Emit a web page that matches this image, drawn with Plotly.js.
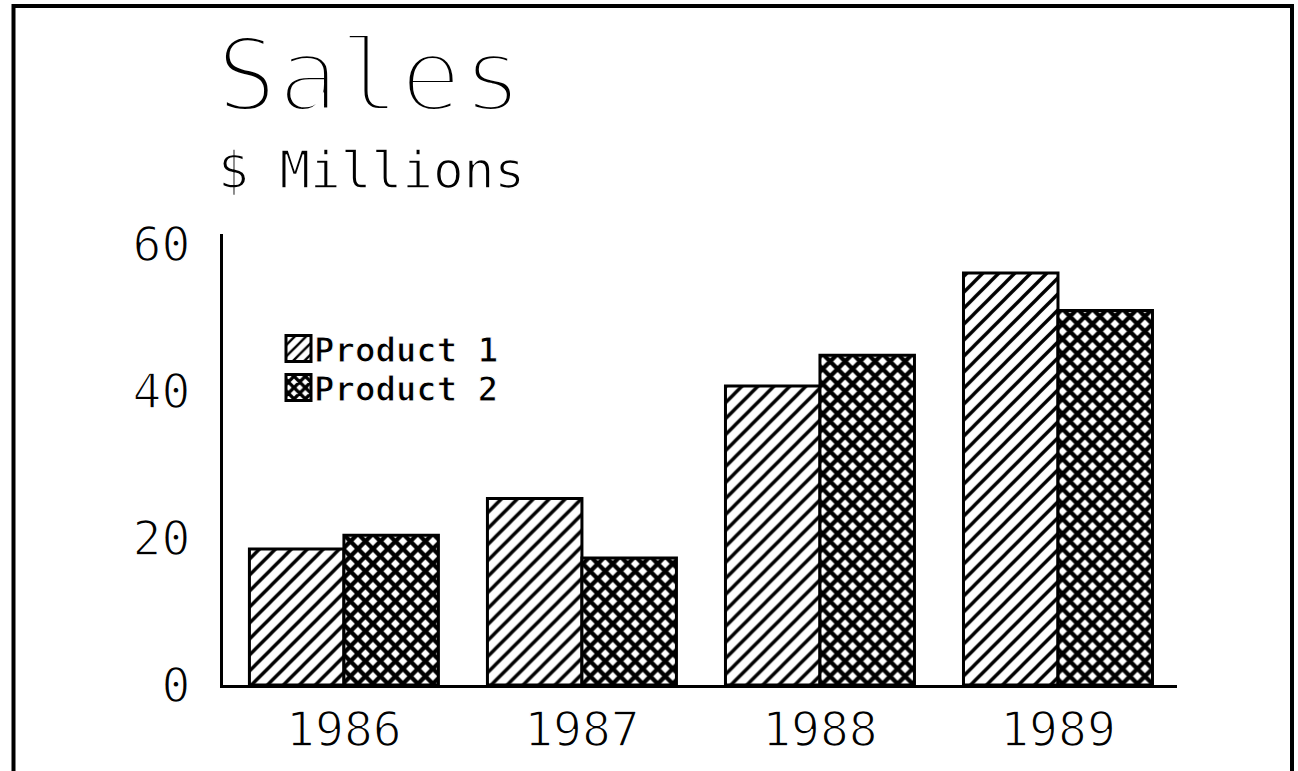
<!DOCTYPE html>
<html><head><meta charset="utf-8">
<script src="https://cdn.plot.ly/plotly-3.0.1.min.js"></script>
<style>
html,body{margin:0;padding:0;background:#fff;}
#chart{width:1298px;height:771px;}
.gtitle{stroke:#fff;stroke-width:6px;}
.annotation-text{stroke:#fff;stroke-width:1.5px;}
.xtick text,.ytick text{stroke:#fff;stroke-width:1.5px;}
</style></head><body><div id="chart"></div>
<script>
const years = ['1986', '1987', '1988', '1989'];
const product1 = [18.5, 25.4, 40.7, 56.1];
const product2 = [20.4, 17.3, 44.9, 51.0];
const seriesNames = ['Product 1', 'Product 2'];
const yTickVals = [0, 20, 40, 60];
const yTickText = ['0', '20', '40', '60'];
const titleText = 'Sales';
const subtitleText = '$ Millions';

const FONT = '"DejaVu Sans Mono", "Liberation Mono", monospace';
const W = 1298, H = 771;
const M = {l: 223, r: 121, t: 234, b: 86};
const pw = W - M.l - M.r, ph = H - M.t - M.b;
function px2x(px) { return (px - M.l) / pw; }
function py2y(py) { return (H - M.b - py) / ph; }

const traces = [
  {
    type: 'bar', name: seriesNames[0], x: years, y: product1, legend: 'legend',
    marker: {
      color: '#fff',
      line: {color: '#000', width: 3},
      pattern: {shape: '/', fgcolor: '#000', bgcolor: '#fff', size: 11.3, solidity: 0.3, fillmode: 'replace'}
    },
    hoverinfo: 'skip'
  },
  {
    type: 'bar', name: seriesNames[1], x: years, y: product2, legend: 'legend2',
    marker: {
      color: '#fff',
      line: {color: '#000', width: 3},
      pattern: {shape: 'x', fgcolor: '#000', bgcolor: '#fff', size: 10.6, solidity: 0.65, fillmode: 'replace'}
    },
    hoverinfo: 'skip'
  }
];

const legendCommon = {
  x: px2x(274), xanchor: 'left', yanchor: 'middle',
  font: {family: FONT, size: 34, color: '#000', weight: 'bold'},
  bgcolor: 'rgba(0,0,0,0)', itemwidth: 30
};

const layout = {
  width: W, height: H, autosize: false,
  paper_bgcolor: '#fff', plot_bgcolor: '#fff',
  margin: M,
  barmode: 'group', bargap: 0.206, bargroupgap: 0,
  font: {family: FONT, color: '#000'},
  title: {
    text: titleText,
    font: {family: FONT, size: 102, color: '#000'},
    xref: 'container', x: 216 / W, xanchor: 'left',
    yref: 'container', y: 1 - 40 / H, yanchor: 'top'
  },
  annotations: [{
    text: subtitleText, showarrow: false,
    xref: 'paper', yref: 'paper',
    x: px2x(216), xanchor: 'left',
    y: py2y(170), yanchor: 'middle',
    font: {family: FONT, size: 51, color: '#000'}
  }],
  xaxis: {
    type: 'category', range: [-0.508, 3.5],
    showline: true, linecolor: '#000', linewidth: 3,
    ticks: '', showgrid: false, zeroline: false,
    tickfont: {family: FONT, size: 48, color: '#000'},
    fixedrange: true
  },
  yaxis: {
    range: [0, 61.4],
    tickvals: yTickVals, ticktext: yTickText,
    showline: true, linecolor: '#000', linewidth: 3,
    ticks: '', showgrid: false, zeroline: false,
    tickfont: {family: FONT, size: 48, color: '#000'},
    ticklabelstandoff: 20,
    fixedrange: true
  },
  legend: Object.assign({}, legendCommon, {y: py2y(349)}),
  legend2: Object.assign({}, legendCommon, {y: py2y(388)}),
  shapes: [{
    type: 'rect', xref: 'paper', yref: 'paper',
    x0: px2x(13.5), x1: px2x(1292), y0: py2y(800), y1: py2y(6),
    line: {color: '#000', width: 4}, fillcolor: 'rgba(0,0,0,0)', layer: 'above'
  }],
  showlegend: true
};

function finish() {
  document.querySelectorAll('.legendpoints path').forEach(function (p) {
    p.setAttribute('d', 'M17,13H-8V-13H17Z');
  });
  document.querySelectorAll('#chart svg text').forEach(function (t) {
    if (seriesNames.indexOf(t.textContent) >= 0) {
      t.style.stroke = '#fff';
      t.style.strokeWidth = '1px';
    }
  });
}

Plotly.newPlot('chart', traces, layout, {displayModeBar: false, staticPlot: true}).then(function () {
  finish();
  setTimeout(finish, 50);
});
</script>
</body></html>
